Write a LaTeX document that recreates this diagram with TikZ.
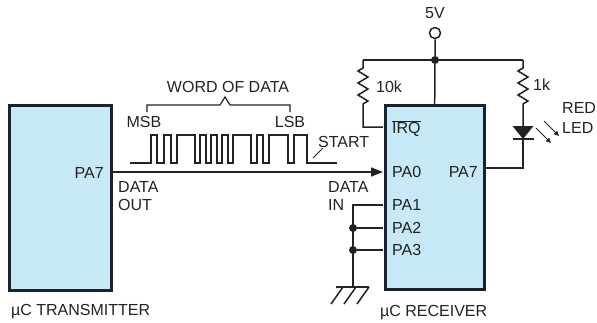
\documentclass[tikz,border=0pt]{standalone}
\usepackage{fontspec}
\setmainfont{Liberation Sans}
\usetikzlibrary{arrows.meta}

\definecolor{chipfill}{RGB}{198,232,247}
\definecolor{chipline}{RGB}{26,34,44}
\definecolor{ink}{RGB}{34,34,34}

\begin{document}
\begin{tikzpicture}[x=1pt,y=-1pt,
    every node/.style={font=\fontsize{16}{18}\selectfont,inner sep=0pt,text=ink},
    chip/.style={draw=chipline,line width=2.8pt,fill=chipfill},
    wire/.style={line width=1.5pt,draw=ink},
    dot/.style={circle,fill=ink,minimum size=8pt},
    lbl/.style={anchor=base west}]

\useasboundingbox (0,0) rectangle (597,322);

      % the two chips
      \node[chip,minimum width=102pt,minimum height=185pt] (tx) at (60.7,198) {};
      \node[chip,minimum width=99pt,minimum height=184pt]  (rx) at (434.7,197.5) {};

      \node[anchor=base east] (txpa7) at (104,178)    {PA7};
      \node[lbl]              (txname) at (11,315)    {µC TRANSMITTER};
      \node[lbl]              (rxname) at (380,316)   {µC RECEIVER};

      \node[lbl]              (irq) at (392,133.7)    {$\overline{\mbox{IRQ}}$};
      \node[lbl]              (rxpa0) at (392,177.7)  {PA0};
      \node[lbl]              (rxpa1) at (392,210.7)  {PA1};
      \node[lbl]              (rxpa2) at (392,233.2)  {PA2};
      \node[lbl]              (rxpa3) at (392,255.7)  {PA3};
      \node[anchor=base east] (rxpa7) at (478,177.7)  {PA7};

      \node[anchor=north west,align=left] (dout) at (118,181) {DATA\\OUT};
      \node[anchor=north west,align=left] (din)  at (328,181) {DATA\\IN};

      % pins
      \coordinate (pa0) at (383,172);
      \coordinate (pa1) at (383,205);
      \coordinate (pa2) at (383,228);
      \coordinate (pa3) at (383,250);
      \coordinate (pirq) at (383,127);
      \coordinate (ppa7) at (486,168);

      \draw[wire,-{Triangle[length=12pt,width=9pt]}] (tx.east |- pa0) -- (pa0);

      % serial word
      \node[anchor=base] (word) at (228,92.7) {WORD OF DATA};
      \node[anchor=base] (msb) at (144,127.7)  {MSB};
      \node[anchor=base] (lsb) at (290,127.7)  {LSB};
      \node[lbl]         (start) at (318,147.7) {START};
      \coordinate (startpt) at (313,158);

      \draw[wire,line width=1.2pt] (147,112) -- (147,105) -- (220,105) -- (225,97) -- (230,105) -- (290,105) -- (290,112);
      \draw[wire,line width=1.4pt] (130,163) -| (151,135) -| (157,163) -| (164,135) -| (171,163) -| (177,135) -| (195,163)
            -| (200,135) -| (206,163) -| (211,135) -| (217,163) -| (222,135) -| (228,163) -| (233,135) -| (251,163)
            -| (257,135) -| (263,163) -| (269,135) -| (288,163) -| (294,135) -| (307,163) -- (337,163);
      \draw[wire,line width=0.9pt] (startpt) -- ([xshift=5pt]start.south west);

      % supply
      \node[circle,wire,fill=white,minimum size=11pt] (vcc) at (435,33) {};
      \node[anchor=base] (vlbl) at (435,18.7) {5V};
      \node[dot] (jtop) at (435,60) {};
      \coordinate (r10top) at (363,60);
      \coordinate (r1top) at (523,60);

      \draw[wire] (vcc) -- (jtop) -- (rx.north);
      \draw[wire] (r10top) -- (r1top);

      % 10k pull-up on IRQ
      \draw[wire] (r10top) -- (363,68) -- ++(-5,3) -- ++(10,6) -- ++(-10,6) -- ++(10,6) -- ++(-10,6) -- ++(10,6)
            -- ++(-5,3) -- (363,127) -- (pirq);
      \node[lbl] (r10lbl) at (376,92.7) {10k};

      % 1k and LED on PA7
      \coordinate (ledtop) at (523,126);
      \coordinate (ledbot) at (523,139);
      \draw[wire] (r1top) -- (523,68) -- ++(-5,3) -- ++(10,6) -- ++(-10,6) -- ++(10,6) -- ++(-10,6) -- ++(10,6)
            -- ++(-5,3) -- (ledtop);
      \node[lbl] (r1lbl) at (533,90.7) {1k};
      \fill[ink] (512.5,126) -- (533.5,126) -- (ledbot) -- cycle;
      \draw[wire] (512.5,139) -- (533.5,139);
      \draw[wire] (ppa7) -| (ledbot);
      \draw[wire,line width=1pt,-{Triangle[length=5pt,width=4.5pt]}] (536,128) -- (551,143);
      \draw[wire,line width=1pt,-{Triangle[length=5pt,width=4.5pt]}] (544,121) -- (559,136);
      \node[anchor=north west,align=left] (ledlbl) at (562,102) {RED\\[2pt]LED};

      % PA1..PA3 tied to ground
      \coordinate (gnd) at (353,287);
      \node[dot] (j2) at (353,228) {};
      \node[dot] (j3) at (353,250) {};
      \draw[wire] (pa1) -| (gnd);
      \draw[wire] (j2) -- (pa2);
      \draw[wire] (j3) -- (pa3);
      \draw[wire] (336,287) -- (369,287);
      \draw[wire] (343,287) -- (331,304);
      \draw[wire] (356,287) -- (344,304);
      \draw[wire] (369,287) -- (357,304);
    \end{tikzpicture}
\end{document}
